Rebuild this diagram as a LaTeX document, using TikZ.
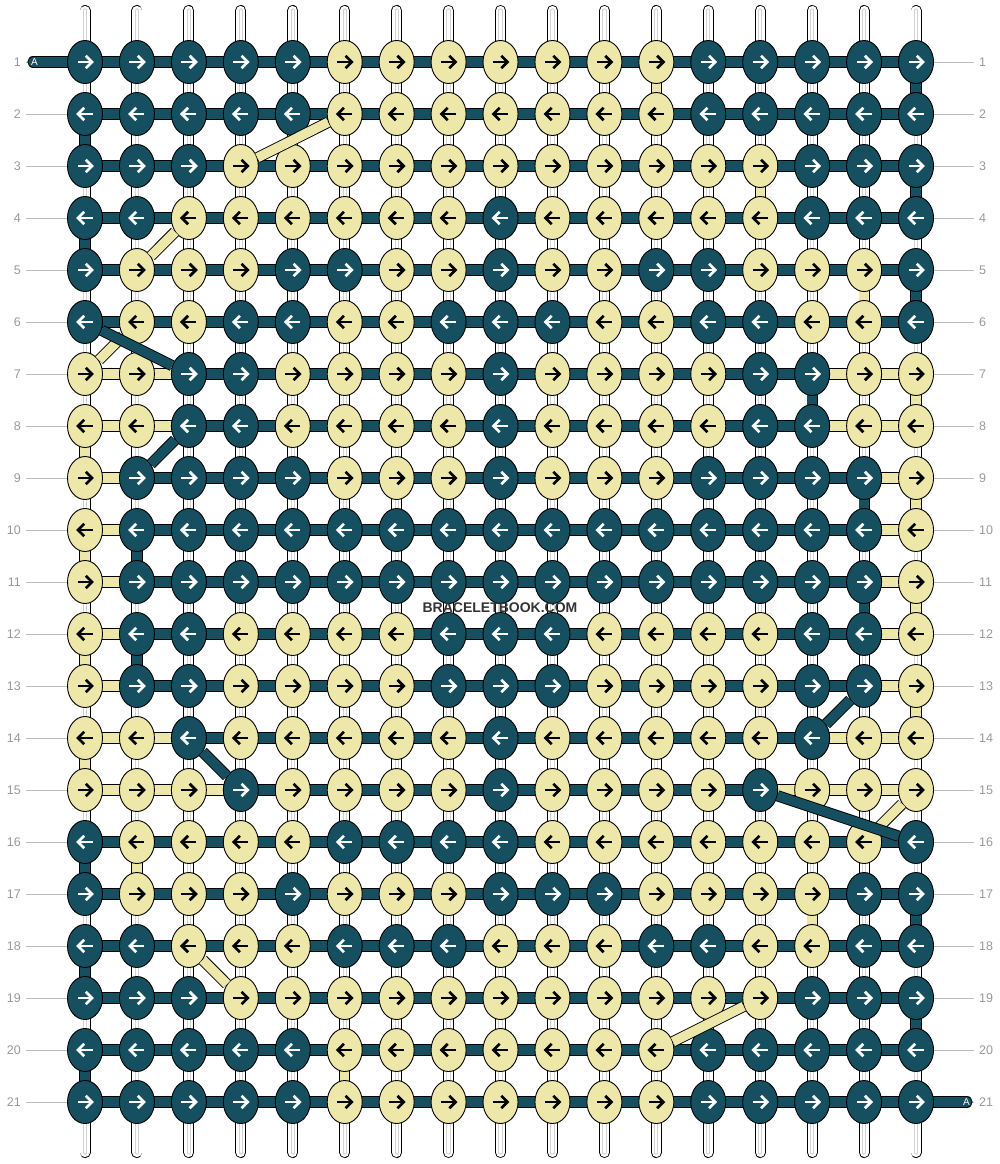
\documentclass[tikz,border=0pt]{standalone}
\usepackage{fontspec}
\setmainfont{Liberation Sans}
\usetikzlibrary{shapes.geometric}

\definecolor{knotd}{HTML}{164F5F}
\definecolor{knoty}{HTML}{EEE7AA}
\definecolor{arrd}{HTML}{FFFFFF}
\definecolor{arry}{HTML}{000000}
\definecolor{numgray}{HTML}{999999}
\definecolor{guidegray}{HTML}{BBBBBB}
\definecolor{markgray}{HTML}{333333}

\pgfdeclarelayer{strings}
\pgfdeclarelayer{bands}
\pgfsetlayers{strings,bands,main}

\tikzset{
  knot/.style={ellipse,draw=black,line width=0.9pt,minimum width=35pt,minimum height=43pt,inner sep=0pt},
  band/.style={draw=black,line width=0.9pt,double=#1,double distance=9.4pt},
  tail/.style={band=#1,line cap=round},
  rownum/.style={text=numgray,inner sep=0pt,font=\fontsize{12.5}{12.5}\selectfont},
  endlabel/.style={text=white,inner sep=0pt,font=\fontsize{10}{10}\selectfont},
}

%: \knotarrow{<knot>}{<1 right, -1 left>}{<colour>}
\newcommand{\knotarrow}[3]{%
\begin{scope}[shift={(#1.center)},xscale=#2,color=#3,line width=2.7pt]
  \draw (-7.5,0) -- (5.5,0);
  \draw (0.8,-6.2) -- (7,0) -- (0.8,6.2);
\end{scope}}

\begin{document}
\begin{tikzpicture}[x=1pt,y=-1pt]
\useasboundingbox (0,0) rectangle (1000,1164);

% the white base strings
\begin{pgfonlayer}{strings}
\foreach \c in {1,...,17} {
  \coordinate (top-\c) at ({85+(\c-1)*51.94},10.5);
  \coordinate (bot-\c) at ({85+(\c-1)*51.94},1152.5);
  \draw[line width=11pt,line cap=round] (top-\c) -- (bot-\c);
  \draw[line width=9.2pt,line cap=round,white] (top-\c) -- (bot-\c);
  \draw[line width=4.2pt,line cap=round,gray!35] (top-\c) -- (bot-\c);
  \draw[line width=2.2pt,line cap=round,white] (top-\c) -- (bot-\c);
}
\end{pgfonlayer}

% row numbers
\foreach \r in {1,...,21} {
  \node[rownum,anchor=east] (numL-\r) at (21,{62+(\r-1)*52}) {\r};
  \node[rownum,anchor=west] (numR-\r) at (979,{62+(\r-1)*52}) {\r};
  \begin{pgfonlayer}{strings}
  \draw[guidegray,line width=0.8pt] ([xshift=5pt]numL-\r.east) -- ([xshift=-5pt]numR-\r.west);
  \end{pgfonlayer}
}

% knots: row / dark span / yellow span / colours
\foreach \r/\ds/\de/\ys/\ye/\knots in {
  1/1/17/6/12/{d,d,d,d,d,y,y,y,y,y,y,y,d,d,d,d,d},
  2/1/17/6/12/{d,d,d,d,d,y,y,y,y,y,y,y,d,d,d,d,d},
  3/1/17/4/14/{d,d,d,y,y,y,y,y,y,y,y,y,y,y,d,d,d},
  4/1/17/3/14/{d,d,y,y,y,y,y,y,d,y,y,y,y,y,d,d,d},
  5/1/17/2/16/{d,y,y,y,d,d,y,y,d,y,y,d,d,y,y,y,d},
  6/1/17/2/16/{d,y,y,d,d,y,y,d,d,d,y,y,d,d,y,y,d},
  7/3/15/1/17/{y,y,d,d,y,y,y,y,d,y,y,y,y,d,d,y,y},
  8/3/15/1/17/{y,y,d,d,y,y,y,y,d,y,y,y,y,d,d,y,y},
  9/2/16/1/17/{y,d,d,d,d,y,y,y,d,y,y,y,d,d,d,d,y},
  10/2/16/1/17/{y,d,d,d,d,d,d,d,d,d,d,d,d,d,d,d,y},
  11/2/16/1/17/{y,d,d,d,d,d,d,d,d,d,d,d,d,d,d,d,y},
  12/2/16/1/17/{y,d,d,y,y,y,y,d,d,d,y,y,y,y,d,d,y},
  13/2/16/1/17/{y,d,d,y,y,y,y,d,d,d,y,y,y,y,d,d,y},
  14/3/15/1/17/{y,y,d,y,y,y,y,y,d,y,y,y,y,y,d,y,y},
  15/4/14/1/17/{y,y,y,d,y,y,y,y,d,y,y,y,y,d,y,y,y},
  16/1/17/2/16/{d,y,y,y,y,d,d,d,d,y,y,y,y,y,y,y,d},
  17/1/17/2/15/{d,y,y,y,d,y,y,y,d,d,d,y,y,y,y,d,d},
  18/1/17/3/15/{d,d,y,y,y,d,d,d,y,y,y,d,d,y,y,d,d},
  19/1/17/4/14/{d,d,d,y,y,y,y,y,y,y,y,y,y,y,d,d,d},
  20/1/17/6/12/{d,d,d,d,d,y,y,y,y,y,y,y,d,d,d,d,d},
  21/1/17/6/12/{d,d,d,d,d,y,y,y,y,y,y,y,d,d,d,d,d}}{
  \pgfmathtruncatemacro{\dir}{1-2*mod(\r+1,2)}
  \foreach \k [count=\c] in \knots {
    \node[knot,fill=knot\k] (k-\r-\c) at ({85+(\c-1)*51.94},{62+(\r-1)*52}) {};
    \knotarrow{k-\r-\c}{\dir}{arr\k}
  }
  % bands along the row
  \begin{pgfonlayer}{bands}
  \foreach \c in {1,...,16} {
    \pgfmathtruncatemacro{\n}{\c+1}
    \pgfmathtruncatemacro{\isdark}{and(\c>=\ds,\n<=\de)}
    \ifnum\isdark=1 \def\bc{knotd}\else\def\bc{knoty}\fi
    \draw[band=\bc] (k-\r-\c.center) -- (k-\r-\n.center);
  }
  \end{pgfonlayer}
}

% yellow thread from row to row
\foreach \r/\a/\b in {1/12/12,2/6/4,3/14/14,4/3/2,5/16/16,6/2/1,7/17/17,
  8/1/1,9/17/17,10/1/1,11/17/17,12/1/1,13/17/17,14/1/1,15/17/16,
  16/2/2,17/15/15,18/3/4,19/14/12,20/6/6} {
  \pgfmathtruncatemacro{\s}{\r+1}
  \ifnum\a=\b
    \begin{pgfonlayer}{bands}\draw[band=knoty] (k-\r-\a.center) -- (k-\s-\b.center);\end{pgfonlayer}
  \else
    \draw[band=knoty] (k-\r-\a) -- (k-\s-\b);
  \fi
}

% dark thread from row to row
\foreach \r/\a/\b in {1/17/17,2/1/1,3/17/17,4/1/1,5/17/17,6/1/3,7/15/15,
  8/3/2,9/16/16,10/2/2,11/16/16,12/2/2,13/16/15,14/3/4,15/14/17,
  16/1/1,17/17/17,18/1/1,19/17/17,20/1/1} {
  \pgfmathtruncatemacro{\s}{\r+1}
  \ifnum\a=\b
    \begin{pgfonlayer}{bands}\draw[band=knotd] (k-\r-\a.center) -- (k-\s-\b.center);\end{pgfonlayer}
  \else
    \draw[band=knotd] (k-\r-\a) -- (k-\s-\b);
  \fi
}

% loose ends of thread A
\coordinate (endA) at (33,62);
\coordinate (endB) at (967,1102);
\begin{pgfonlayer}{bands}
\draw[tail=knotd] (endA) -- (k-1-1.center);
\draw[tail=knotd] (k-21-17.center) -- (endB);
\end{pgfonlayer}
\node[endlabel] (labA) at (34.5,62) {A};
\node[endlabel] (labB) at (966.5,1102) {A};

\node[text=markgray,font=\bfseries\fontsize{14}{14}\selectfont] (mark) at (500,607.5) {BRACELETBOOK.COM};
\end{tikzpicture}
\end{document}
